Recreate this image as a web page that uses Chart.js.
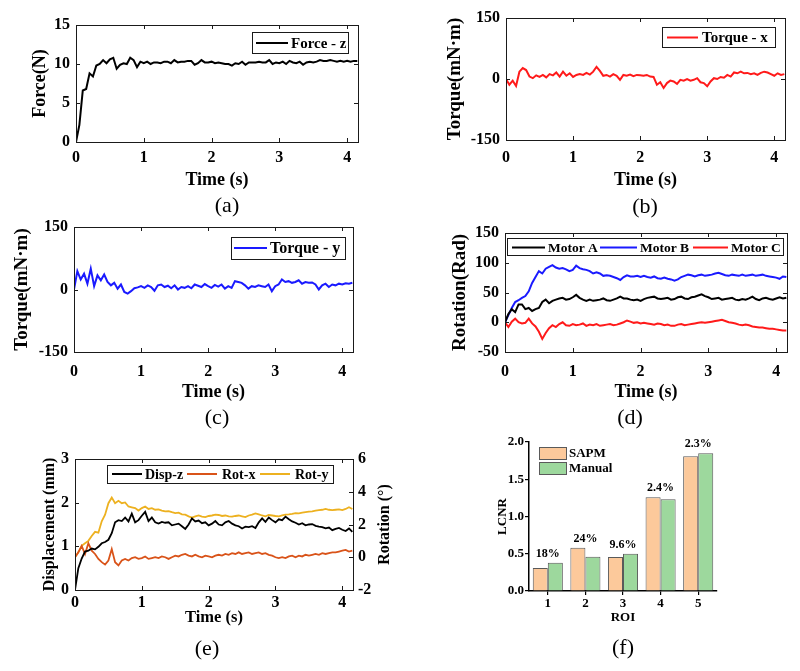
<!DOCTYPE html>
<html>
<head>
<meta charset="utf-8">
<script src="https://cdn.jsdelivr.net/npm/chart.js@4.4.1/dist/chart.umd.min.js"></script>
<style>
html,body{margin:0;padding:0;background:#fff;}
#wrap{position:relative;width:800px;height:671px;overflow:hidden;background:#fff;}
canvas{position:absolute;left:0;top:0;}
.cap{position:absolute;font-family:'Liberation Serif','Times New Roman',serif;font-size:22px;line-height:1;transform:translate(-50%,-50%);white-space:nowrap;color:#000;}
</style>
</head>
<body>
<div id="wrap">
<canvas id="ca" width="800" height="671"></canvas>
<canvas id="cb" width="800" height="671"></canvas>
<canvas id="cc" width="800" height="671"></canvas>
<canvas id="cd" width="800" height="671"></canvas>
<canvas id="ce" width="800" height="671"></canvas>
<canvas id="cf" width="800" height="671"></canvas>
<div class="cap" style="left:227px;top:205px">(a)</div>
<div class="cap" style="left:645px;top:206px">(b)</div>
<div class="cap" style="left:217px;top:417px">(c)</div>
<div class="cap" style="left:630px;top:417px">(d)</div>
<div class="cap" style="left:207px;top:648px">(e)</div>
<div class="cap" style="left:623px;top:647px">(f)</div>
</div>
<script>
// ---------------- DATA ----------------
const time = [0,0.05,0.1,0.15,0.2,0.25,0.3,0.35,0.4,0.45,
  0.5,0.55,0.6,0.65,0.7,0.75,0.8,0.85,0.9,0.95,
  1,1.05,1.1,1.15,1.2,1.25,1.3,1.35,1.4,1.45,
  1.5,1.55,1.6,1.65,1.7,1.75,1.8,1.85,1.9,1.95,
  2,2.05,2.1,2.15,2.2,2.25,2.3,2.35,2.4,2.45,
  2.5,2.55,2.6,2.65,2.7,2.75,2.8,2.85,2.9,2.95,
  3,3.05,3.1,3.15,3.2,3.25,3.3,3.35,3.4,3.45,
  3.5,3.55,3.6,3.65,3.7,3.75,3.8,3.85,3.9,3.95,
  4,4.05,4.1,4.15];

const forceZ = [0,2.2,6.6,6.8,8.8,8.4,9.8,10.0,10.5,10.1,
  10.6,10.8,9.4,9.9,10.1,10.0,10.8,10.5,9.6,10.3,
  10.1,10.3,10.0,10.2,10.2,10.1,10.3,10.3,10.1,10.5,
  10.2,10.3,10.3,10.4,10.4,9.9,10.1,10.5,10.2,10.2,
  10.3,10.1,10.2,10.1,10.0,10.0,9.8,10.1,10.0,10.3,
  9.9,10.2,10.2,10.2,10.3,10.2,10.2,10.5,10.0,10.2,
  10.1,10.3,10.0,10.4,10.2,10.1,10.3,9.9,10.2,10.3,
  10.2,10.3,10.5,10.4,10.4,10.5,10.4,10.3,10.4,10.3,
  10.4,10.3,10.4,10.4];

const torqueX = [0,-14,-4,-17,18,27,22,6,2,9,
  5,10,4,12,9,16,6,18,8,14,
  5,10,12,10,15,11,18,30,20,8,
  10,6,12,8,-2,10,8,11,7,10,
  9,8,10,6,5,-14,-8,-22,-10,-4,
  -6,-12,-2,-4,0,-4,-2,2,-8,-10,
  -18,-6,2,0,5,3,10,6,16,14,
  18,14,15,12,14,10,15,18,16,12,
  8,14,10,12];

const torqueY = [0,44,24,38,14,50,8,34,22,36,
  18,10,16,2,12,-6,-10,-4,3,5,
  8,4,10,6,-3,10,12,6,9,3,
  10,0,6,4,8,3,12,9,6,13,
  8,4,11,7,12,2,8,4,20,18,
  16,10,2,8,6,10,8,6,12,-4,
  8,12,24,18,20,16,18,22,14,18,
  16,17,12,0,10,14,6,12,10,14,
  12,15,14,16];

const motorA = [0,14,22,17,30,30,22,24,19,22,
  24,34,38,32,36,38,40,41,38,39,
  42,46,41,38,36,38,36,37,38,40,
  37,36,38,40,43,40,40,38,37,38,
  36,39,41,42,43,40,39,40,41,38,
  39,42,43,40,39,42,43,45,47,44,
  42,39,40,41,38,39,40,41,38,37,
  39,38,40,43,39,37,40,41,39,38,
  40,42,40,41];

const motorB = [0,12,24,34,37,41,44,52,66,76,
  86,82,90,93,96,92,90,91,89,86,
  88,95,91,89,88,86,82,84,82,78,
  79,78,76,74,71,76,79,77,77,78,
  76,78,76,75,77,74,73,75,73,72,
  70,72,76,78,80,79,77,79,80,78,
  79,80,82,83,81,79,78,80,79,78,
  80,78,79,80,78,79,80,78,77,76,
  75,73,77,76];

const motorC = [0,-8,1,6,0,-2,-1,6,-2,-7,
  -16,-28,-18,-10,-5,-8,-3,0,-5,-6,
  -3,-5,-4,-2,-6,-4,-5,-3,-6,-5,
  -4,-3,-5,-4,-2,0,3,1,-1,0,
  -2,-1,-2,-3,-4,-2,-3,-5,-4,-6,
  -6,-4,-3,-5,-4,-3,-2,-1,0,-1,
  0,1,2,3,4,2,0,-1,-2,-4,
  -5,-4,-5,-7,-8,-9,-9,-10,-11,-11,
  -12,-13,-14,-14];

const dispZ = [0,0.5,0.72,0.88,0.9,0.95,0.93,0.99,1.07,1.1,
  1.15,1.3,1.55,1.6,1.58,1.66,1.57,1.75,1.55,1.6,
  1.7,1.79,1.58,1.66,1.55,1.52,1.56,1.54,1.55,1.48,
  1.5,1.52,1.46,1.4,1.5,1.64,1.57,1.59,1.53,1.55,
  1.48,1.52,1.58,1.5,1.48,1.55,1.58,1.52,1.48,1.46,
  1.41,1.45,1.44,1.46,1.42,1.55,1.64,1.56,1.66,1.6,
  1.55,1.62,1.6,1.68,1.62,1.57,1.54,1.5,1.53,1.48,
  1.5,1.51,1.47,1.45,1.44,1.41,1.43,1.37,1.4,1.42,
  1.38,1.35,1.41,1.33];

const rotX = [0,0.3,0.7,0.2,0.85,0.4,0.2,-0.1,-0.3,-0.45,
  -0.2,0.5,-0.3,-0.5,-0.2,-0.1,-0.2,-0.05,0,-0.1,
  -0.05,0.05,-0.1,-0.05,0,-0.05,0.05,0,-0.1,0,
  0.1,0.05,0.15,0.2,0.1,0.05,0.15,0.05,0,0.1,
  0.05,0,0.1,0.15,0.1,0.2,0.15,0.25,0.2,0.3,
  0.2,0.25,0.3,0.2,0.25,0.3,0.2,0.25,0.15,0.1,
  0,-0.05,0,-0.05,0.05,0.1,0,0.1,0.05,0.15,
  0.1,0.15,0.2,0.15,0.25,0.2,0.25,0.3,0.3,0.35,
  0.4,0.45,0.35,0.4];

const rotY = [0,0.3,0.7,0.85,1.0,1.3,1.55,1.5,2.2,2.6,
  3.3,3.65,3.3,3.45,3.3,3.35,3.1,3.05,3.0,2.85,
  3.0,3.1,2.95,3.0,2.9,2.92,2.85,2.8,2.82,2.75,
  2.7,2.72,2.62,2.6,2.5,2.42,2.5,2.55,2.48,2.45,
  2.52,2.55,2.6,2.58,2.52,2.55,2.5,2.48,2.52,2.55,
  2.5,2.45,2.55,2.6,2.68,2.62,2.55,2.5,2.58,2.55,
  2.52,2.5,2.55,2.6,2.62,2.65,2.7,2.68,2.72,2.75,
  2.78,2.8,2.85,2.88,2.9,2.95,2.9,2.88,2.9,2.92,
  2.88,2.95,3.05,2.95];

const roiLabels = ['1','2','3','4','5'];
const sapm = [0.31,0.58,0.455,1.26,1.81];
const manual = [0.38,0.46,0.50,1.23,1.85];
const diffLabels = ['18%','24%','9.6%','2.4%','2.3%'];

const timeTicksX = {min:0, max:4.16, step:1};

// ---------------- SETUP ----------------
const FONT = "'Liberation Serif','Times New Roman',serif";
Chart.defaults.font.family = FONT;
Chart.defaults.font.weight = 'bold';
Chart.defaults.color = '#000';
Chart.defaults.animation = false;

const EXTRA = {}; // per-canvas drawing settings (legend boxes, extra titles)

const boxPlugin = {
  id: 'mbox',
  afterDatasetsDraw(chart) {
    const cfg = EXTRA[chart.canvas.id];
    if (!cfg || !cfg.box) return;
    const ctx = chart.ctx, a = chart.chartArea, tl = 4;
    ctx.save();
    ctx.strokeStyle = '#1a1a1a';
    ctx.lineWidth = 1;
    const seg = (x1,y1,x2,y2) => { ctx.beginPath(); ctx.moveTo(x1,y1); ctx.lineTo(x2,y2); ctx.stroke(); };
    const xs = chart.scales.x, ys = chart.scales.y, y1 = chart.scales.y1;
    xs.ticks.forEach(t => { const p = Math.round(xs.getPixelForValue(t.value)) + 0.5; seg(p, a.bottom, p, a.bottom - tl); seg(p, a.top, p, a.top + tl); });
    ys.ticks.forEach(t => { const p = Math.round(ys.getPixelForValue(t.value)) + 0.5; seg(a.left, p, a.left + tl, p); if (!y1) seg(a.right, p, a.right - tl, p); });
    if (y1) y1.ticks.forEach(t => { const p = Math.round(y1.getPixelForValue(t.value)) + 0.5; seg(a.right, p, a.right - tl, p); });
    ctx.strokeRect(Math.round(a.left) + 0.5, Math.round(a.top) + 0.5, Math.round(a.right - a.left), Math.round(a.bottom - a.top));
    ctx.restore();
  }
};

const legendPlugin = {
  id: 'mleg',
  afterDraw(chart) {
    const cfg = EXTRA[chart.canvas.id];
    if (!cfg || !cfg.legend) return;
    const L = cfg.legend, ctx = chart.ctx;
    ctx.save();
    if (L.frame) {
      ctx.fillStyle = '#fff';
      ctx.fillRect(L.frame.x, L.frame.y, L.frame.w, L.frame.h);
      ctx.strokeStyle = '#1a1a1a'; ctx.lineWidth = 1;
      ctx.strokeRect(L.frame.x + 0.5, L.frame.y + 0.5, L.frame.w, L.frame.h);
    }
    ctx.font = 'bold ' + L.size + 'px ' + FONT;
    ctx.textBaseline = 'middle';
    ctx.textAlign = 'left';
    L.items.forEach((it, i) => {
      const ds = chart.data.datasets[i];
      if (L.kind === 'bar') {
        ctx.fillStyle = ds.backgroundColor;
        ctx.fillRect(it.x, it.y, it.w, it.h);
        ctx.strokeStyle = ds.borderColor; ctx.lineWidth = 1;
        ctx.strokeRect(it.x + 0.5, it.y + 0.5, it.w, it.h);
        ctx.fillStyle = '#000';
        ctx.fillText(ds.label, it.tx, it.y + it.h / 2 + 1);
      } else {
        ctx.strokeStyle = ds.borderColor; ctx.lineWidth = 2;
        ctx.beginPath(); ctx.moveTo(it.x1, it.y); ctx.lineTo(it.x2, it.y); ctx.stroke();
        ctx.fillStyle = '#000';
        ctx.fillText(ds.label, it.tx, it.y + 1);
      }
    });
    ctx.restore();
  }
};

const rightTitlePlugin = {
  id: 'rtitle',
  afterDraw(chart) {
    const cfg = EXTRA[chart.canvas.id];
    if (!cfg || !cfg.rightTitle) return;
    const R = cfg.rightTitle, ctx = chart.ctx, a = chart.chartArea;
    ctx.save();
    ctx.translate(R.x, (a.top + a.bottom) / 2);
    ctx.rotate(-Math.PI / 2);
    ctx.font = 'bold ' + R.size + 'px ' + FONT;
    ctx.fillStyle = '#000';
    ctx.textAlign = 'center';
    ctx.textBaseline = 'middle';
    ctx.fillText(R.text, 0, 0);
    ctx.restore();
  }
};

const barLabelPlugin = {
  id: 'blab',
  afterDatasetsDraw(chart) {
    const cfg = EXTRA[chart.canvas.id];
    if (!cfg || !cfg.barLabels) return;
    const B = cfg.barLabels, ctx = chart.ctx;
    const xs = chart.scales.x, ys = chart.scales.y;
    ctx.save();
    ctx.font = 'bold ' + B.size + 'px ' + FONT;
    ctx.fillStyle = '#000';
    ctx.textAlign = 'center';
    ctx.textBaseline = 'middle';
    B.labels.forEach((lab, i) => {
      const v = Math.max.apply(null, chart.data.datasets.map(d => d.data[i]));
      ctx.fillText(lab, xs.getPixelForValue(i), ys.getPixelForValue(v) - B.offset);
    });
    ctx.restore();
  }
};

Chart.register(boxPlugin, legendPlugin, rightTitlePlugin, barLabelPlugin);

function lineDs(label, values, color, width, axis) {
  return {
    label: label,
    data: time.map((t, i) => ({x: t, y: values[i]})),
    borderColor: color, backgroundColor: color,
    borderWidth: width, pointRadius: 0, tension: 0, fill: false,
    yAxisID: axis || 'y'
  };
}

const noGrid = {display: false, drawTicks: false, tickLength: 0};

function timeChart(id, P) {
  const lh = 1.2;
  const yScaleLeft = P.yTitleX - P.yTitleSize * lh / 2;
  const xScaleBottom = P.xTitleY + P.xTitleSize * lh / 2;
  let rightEdge = P.right;
  if (P.y1) rightEdge = P.y1.titleX + P.y1.titleSize * lh / 2;
  const scales = {
    x: {
      type: 'linear', min: timeTicksX.min, max: timeTicksX.max,
      afterFit(s) { s.height = xScaleBottom - P.bottom; },
      afterBuildTicks(s) { s.ticks = s.ticks.filter(t => Math.abs(t.value - Math.round(t.value)) < 1e-9); },
      grid: noGrid, border: {display: false},
      ticks: {stepSize: timeTicksX.step, includeBounds: false, padding: P.xTickPad, maxRotation: 0, autoSkip: false, font: {size: P.tickSize}},
      title: {display: true, text: 'Time (s)', padding: 0, font: {size: P.xTitleSize}}
    },
    y: {
      min: P.y.min, max: P.y.max,
      afterFit(s) { s.width = P.left - yScaleLeft; },
      grid: noGrid, border: {display: false},
      ticks: {stepSize: P.y.step, includeBounds: false, padding: 6, font: {size: P.tickSize}},
      title: {display: true, text: P.y.title, padding: 0, font: {size: P.yTitleSize}}
    }
  };
  if (P.y1) {
    scales.y1 = {
      position: 'right', min: P.y1.min, max: P.y1.max,
      afterFit(s) { s.width = rightEdge - P.right; },
      grid: noGrid, border: {display: false},
      ticks: {stepSize: P.y1.step, includeBounds: false, padding: 5, font: {size: P.tickSize}},
      title: {display: false}
    };
  }
  EXTRA[id] = {box: true, legend: P.legend, rightTitle: P.y1 ? {text: P.y1.title, x: P.y1.titleX, size: P.y1.titleSize} : null};
  return new Chart(document.getElementById(id), {
    type: 'line',
    data: {datasets: P.datasets},
    options: {
      responsive: false, animation: false,
      layout: {padding: {left: yScaleLeft, top: P.top, right: 800 - rightEdge, bottom: 671 - xScaleBottom}},
      scales: scales,
      plugins: {legend: {display: false}, tooltip: {enabled: false}}
    }
  });
}

// (a)
timeChart('ca', {
  left: 76, top: 25, right: 358, bottom: 142,
  yTitleX: 40, yTitleSize: 18, xTitleY: 180, xTitleSize: 18, tickSize: 16, xTickPad: 6,
  y: {min: 0, max: 15, step: 5, title: 'Force(N)'},
  datasets: [lineDs('Force - z', forceZ, '#000000', 2)],
  legend: {size: 15, frame: {x: 252, y: 32, w: 96, h: 21}, items: [{x1: 256, x2: 288, tx: 291, y: 43}]}
});

// (b)
timeChart('cb', {
  left: 506, top: 18, right: 785, bottom: 140,
  yTitleX: 455, yTitleSize: 19, xTitleY: 180, xTitleSize: 18, tickSize: 16, xTickPad: 8,
  y: {min: -150, max: 150, step: 150, title: 'Torque(mN·m)'},
  datasets: [lineDs('Torque - x', torqueX, '#ff1a1a', 2)],
  legend: {size: 15, frame: {x: 662, y: 27, w: 113, h: 20}, items: [{x1: 667, x2: 698, tx: 702, y: 37.5}]}
});

// (c)
timeChart('cc', {
  left: 74, top: 227, right: 353, bottom: 352,
  yTitleX: 22, yTitleSize: 19, xTitleY: 392, xTitleSize: 18, tickSize: 16, xTickPad: 10,
  y: {min: -150, max: 150, step: 150, title: 'Torque(mN·m)'},
  datasets: [lineDs('Torque - y', torqueY, '#1a1aff', 2)],
  legend: {size: 16, frame: {x: 231, y: 237, w: 114, h: 22}, items: [{x1: 234, x2: 267, tx: 270, y: 248}]}
});

// (d)
timeChart('cd', {
  left: 505, top: 233, right: 787, bottom: 352,
  yTitleX: 460, yTitleSize: 19, xTitleY: 392, xTitleSize: 18, tickSize: 16, xTickPad: 10,
  y: {min: -50, max: 150, step: 50, title: 'Rotation(Rad)'},
  datasets: [
    lineDs('Motor A', motorA, '#000000', 2),
    lineDs('Motor B', motorB, '#1a1aff', 2),
    lineDs('Motor C', motorC, '#ff1a1a', 2)
  ],
  legend: {size: 13.5, frame: {x: 507, y: 238, w: 276, h: 17}, items: [
    {x1: 512, x2: 545, tx: 548, y: 247.5},
    {x1: 600, x2: 637, tx: 640, y: 247.5},
    {x1: 693, x2: 728, tx: 731, y: 247.5}
  ]}
});

// (e)
timeChart('ce', {
  left: 75, top: 459, right: 353, bottom: 590,
  yTitleX: 50, yTitleSize: 16, xTitleY: 618, xTitleSize: 16.5, tickSize: 16, xTickPad: 3.5,
  y: {min: 0, max: 3, step: 1, title: 'Displacement (mm)'},
  y1: {min: -2, max: 6, step: 2, title: 'Rotation (°)', titleX: 385, titleSize: 16},
  datasets: [
    lineDs('Disp-z', dispZ, '#000000', 1.8, 'y'),
    lineDs('Rot-x', rotX, '#d95319', 1.8, 'y1'),
    lineDs('Rot-y', rotY, '#edb120', 1.8, 'y1')
  ],
  legend: {size: 14, frame: {x: 107, y: 465, w: 226, h: 18}, items: [
    {x1: 112, x2: 142, tx: 145, y: 474},
    {x1: 187, x2: 217, tx: 222, y: 474},
    {x1: 260, x2: 290, tx: 295, y: 474}
  ]}
});

// (f)
EXTRA['cf'] = {
  box: false,
  legend: {kind: 'bar', size: 13, items: [
    {x: 539, y: 447, w: 27, h: 12, tx: 569},
    {x: 539, y: 462, w: 27, h: 12, tx: 569}
  ]},
  barLabels: {labels: diffLabels, size: 12, offset: 9}
};
const axisGrid = {display: true, drawOnChartArea: false, drawTicks: true, tickLength: 4, color: '#000', lineWidth: 1.2, offset: false};
new Chart(document.getElementById('cf'), {
  type: 'bar',
  data: {
    labels: roiLabels,
    datasets: [
      {label: 'SAPM', data: sapm, backgroundColor: '#fcc99b', borderColor: '#5a5a5a', borderWidth: 1, barPercentage: 1, categoryPercentage: 0.8},
      {label: 'Manual', data: manual, backgroundColor: '#9dd89d', borderColor: '#5a5a5a', borderWidth: 1, barPercentage: 1, categoryPercentage: 0.8}
    ]
  },
  options: {
    responsive: false, animation: false,
    layout: {padding: {left: 495.2, top: 442, right: 83, bottom: 671 - 625.8}},
    scales: {
      x: {
        grid: axisGrid, border: {display: true, color: '#000', width: 1.5},
        ticks: {padding: 1, font: {size: 13}},
        title: {display: true, text: 'ROI', padding: 0, font: {size: 13}},
        afterFit(s) { s.height = 34.8; }
      },
      y: {
        min: 0, max: 2,
        grid: axisGrid, border: {display: true, color: '#000', width: 1.5},
        ticks: {stepSize: 0.5, padding: 1, font: {size: 13}, callback: v => Number(v).toFixed(1)},
        title: {display: true, text: 'LCNR', padding: 0, font: {size: 13}},
        afterFit(s) { s.width = 33.8; }
      }
    },
    plugins: {legend: {display: false}, tooltip: {enabled: false}}
  }
});
</script>
</body>
</html>
